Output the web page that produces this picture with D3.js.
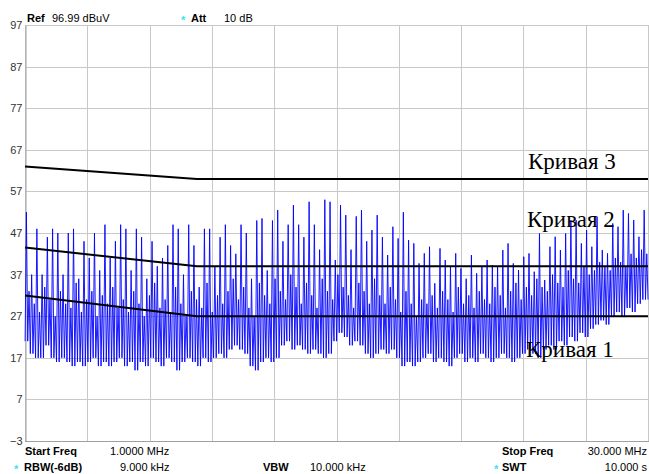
<!DOCTYPE html>
<html><head><meta charset="utf-8">
<script src="https://cdn.jsdelivr.net/npm/d3@7"></script>
<style>
html,body{margin:0;padding:0;background:#fff;}
svg{display:block;}
</style></head>
<body>
<svg id="chart" width="649" height="474"></svg>
<script>
// ---- data ----
const yTicks = [97, 87, 77, 67, 57, 47, 37, 27, 17, 7, -3];
const freqStart = 1, freqStop = 30; // MHz
const gridDivisions = 10;

const limitFreq = [1, 9, 30];
const curve1 = [32, 27, 27];
const curve2 = [43.5, 39, 39];
const curve3 = [63, 60, 60];
const curveLabels = ["Кривая 1", "Кривая 2", "Кривая 3"];

// trace: per spike peak, intermediate level and floor (dBuV)
const peaks = [
  52,37,48,37,46,48,47,37,47,48, 36,45,41,47,38,49,41,45,49,48,
  38,48,46,36,45,39,41,44,49,48, 37,49,44,34,48,48,39,
  46,49,44,42,49,47,36,50,50.5,38, 50,52.5,45,49,53.7,49,46,54.5,49,43,
  55,54.5,40.5,53.7,51.3,43,51,52.5,45,47.7, 51.3,46,41.7,48.5,45.7,52,45.3,44.5,39.7,
  42.1,43.7,34.9,43.3,40.5,38.9,42.1,38.5,36,41.7, 37.3,38.9,40.5,39.3,38.9,42.9,44.5,39.7,38.1,41.3,
  42.1,37.7,46.9,35.7,43.7,46.1,42.9,46.9,50.1,50.1, 44.5,47.7,43.7,50.9,42.9,42.1,49.3,48.5,52.5,51.7,
  50.1,46.1,52.5
];
const mids = [
  33,30,28,34,31,27,33,30,29,35, 28,31,33,27,32,30,34,29,31,28,
  33,30,27,32,35,29,31,28,34,30, 27,33,31,29,35,28,32,
  30,33,36,31,34,29,27,35,32,30, 36,33,31,37,34,30,35,32,29,36,
  33,31,37,34,32,29,35,33,30,36, 32,30,34,31,28,33,30,27,31,
  30,32,29,33,31,28,34,30,32,29, 33,31,30,34,32,29,33,35,31,34,
  32,36,34,33,37,35,34,38,36,35, 39,37,38,40,39,38,41,40,39,42,
  41,43,42
];
const floors = [
  21,18,17,17,20,17,16,17,16,15, 16,15,16,17,15,16,15,16,17,15,
  16,14,16,15,17,16,15,17,16,14, 16,17,16,15,17,16,17,
  18,17,19,20,19,18,15,14,16,17, 16,17,20,21,19,20,19,18,19,18,
  17,18,21,23,22,20,21,20,18,17, 18,19,18,19,17,15,16,15,16,
  17,18,16,17,16,15,17,18,16,17, 16,18,17,16,17,18,17,16,17,18,
  19,18,17,19,20,19,21,20,22,21, 23,22,24,25,26,25,27,28,27,29,
  28,30,31
];

// ---- layout ----
const L = 25, R = 648, T = 25, B = 441;
const svg = d3.select("#chart");
const x = d3.scaleLinear().domain([freqStart, freqStop]).range([L, R]);
const y = d3.scaleLinear().domain([-3, 97]).range([B, T]);
const sans = "'Liberation Sans', Arial, sans-serif";

// grid
const gridX = d3.range(gridDivisions + 1).map(i => freqStart + i * (freqStop - freqStart) / gridDivisions);
svg.append("g").selectAll("line").data(gridX).join("line")
  .attr("x1", d => Math.round(x(d)) + 0.5).attr("x2", d => Math.round(x(d)) + 0.5)
  .attr("y1", T).attr("y2", B)
  .attr("stroke", "#c8c8c8").attr("stroke-width", 1);
svg.append("g").selectAll("line").data(yTicks).join("line")
  .attr("x1", L).attr("x2", R + 1)
  .attr("y1", d => Math.round(y(d)) + 0.5).attr("y2", d => Math.round(y(d)) + 0.5)
  .attr("stroke", "#c8c8c8").attr("stroke-width", 1);

// axes frame (left + bottom)
const yAxis = d3.axisLeft(y).tickValues(yTicks).tickSize(0).tickPadding(3);
const gy = svg.append("g").attr("transform", `translate(${L + 0.5},0)`).call(yAxis);
gy.select(".domain").attr("stroke", "#a0a0a0");
gy.selectAll("text").attr("font-family", sans).attr("font-size", 11).attr("fill", "#333");
svg.append("line").attr("x1", L).attr("x2", R + 1).attr("y1", B + 0.5).attr("y2", B + 0.5)
  .attr("stroke", "#a0a0a0");

// trace
const N = Math.min(peaks.length, mids.length, floors.length);
const step = (freqStop - freqStart) / N;
const pts = [];
for (let i = 0; i < N; i++) {
  const f0 = freqStart + i * step;
  pts.push([f0 + 0.02 * step, floors[i]]);
  pts.push([f0 + 0.27 * step, peaks[i]]);
  pts.push([f0 + 0.52 * step, floors[i]]);
  pts.push([f0 + 0.77 * step, mids[i]]);
}
pts.push([freqStop, floors[N - 1]]);
svg.append("path").datum(pts)
  .attr("d", d3.line().x(d => x(d[0])).y(d => y(d[1])))
  .attr("fill", "none").attr("stroke", "#0000ff").attr("stroke-width", 0.9);

// limit curves
const line = d3.line().x((d, i) => x(limitFreq[i])).y(d => y(d));
[curve1, curve2, curve3].forEach(c => {
  svg.append("path").datum(c).attr("d", line)
    .attr("fill", "none").attr("stroke", "#000").attr("stroke-width", 2);
});

// curve labels
const labelPos = [[526, 357], [527, 227], [528, 169]];
curveLabels.forEach((t, i) => {
  svg.append("text").attr("x", labelPos[i][0]).attr("y", labelPos[i][1])
    .attr("font-family", "'Liberation Serif', 'Times New Roman', serif")
    .attr("font-size", 23).attr("fill", "#000").text(t);
});

// header / footer text
function txt(xp, yp, s, bold, anchor) {
  svg.append("text").attr("x", xp).attr("y", yp).attr("font-family", sans)
    .attr("font-size", 11).attr("font-weight", bold ? "bold" : "normal")
    .attr("text-anchor", anchor || "start").attr("fill", "#000").text(s);
}
function star(xp, yp) {
  svg.append("text").attr("x", xp).attr("y", yp).attr("font-family", sans)
    .attr("font-size", 11).attr("font-weight", "bold").attr("fill", "#33e6f0").text("*");
}
txt(27, 22, "Ref", true);
txt(52, 22, "96.99 dBuV", false);
star(181, 24);
txt(191, 22, "Att", true);
txt(224, 22, "10 dB", false);

txt(25, 455, "Start Freq", true);
txt(110, 455, "1.0000 MHz", false);
txt(502, 455, "Stop Freq", true);
txt(647, 455, "30.000 MHz", false, "end");
star(14, 473);
txt(24, 471, "RBW(-6dB)", true);
txt(120, 471, "9.000 kHz", false);
txt(263, 471, "VBW", true);
txt(310, 471, "10.000 kHz", false);
star(494, 473);
txt(502, 471, "SWT", true);
txt(647, 471, "10.000 s", false, "end");
</script>
</body></html>
